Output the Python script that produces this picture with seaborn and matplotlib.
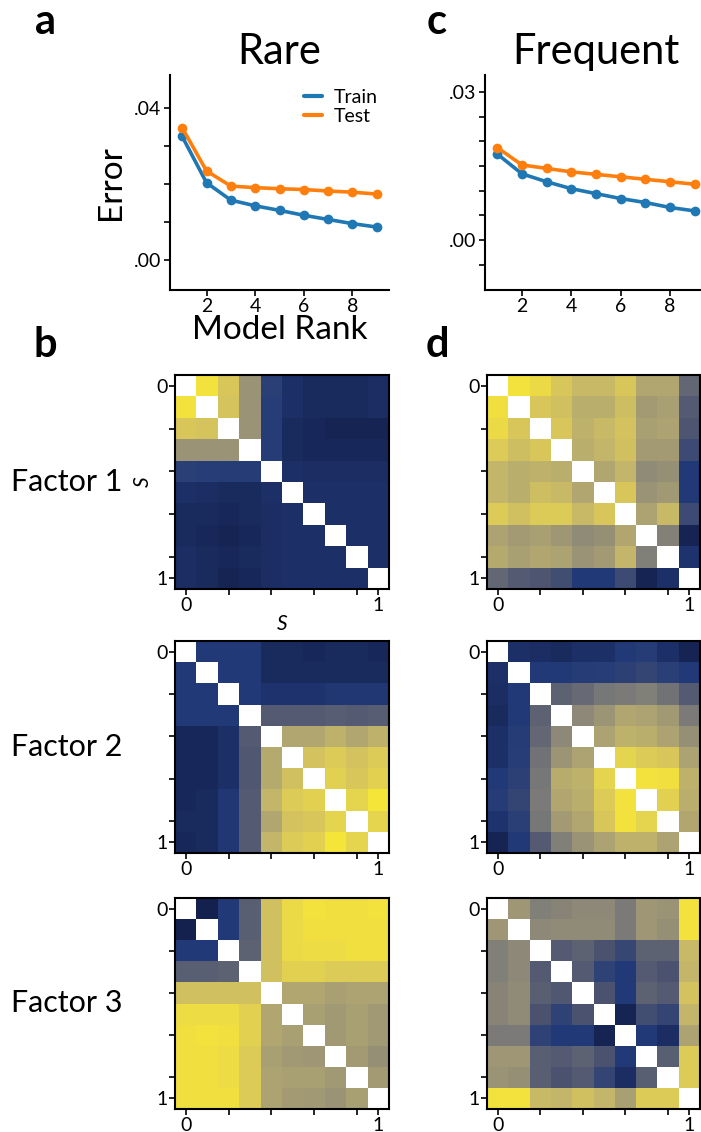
import numpy as np
import pandas as pd
import matplotlib
matplotlib.use("Agg")
import matplotlib.pyplot as plt
from matplotlib.colors import LinearSegmentedColormap
import seaborn as sns

# ---------------- data ----------------
ranks = [1, 2, 3, 4, 5, 6, 7, 8, 9]
rare_train = [0.0325, 0.0203, 0.0157, 0.0142, 0.0130, 0.0117, 0.0106, 0.0095, 0.0086]
rare_test = [0.0348, 0.0234, 0.0194, 0.0190, 0.0187, 0.0185, 0.0181, 0.0178, 0.0173]
freq_train = [0.0174, 0.0134, 0.0118, 0.0104, 0.0094, 0.0084, 0.0076, 0.0066, 0.0059]
freq_test = [0.0187, 0.0152, 0.0145, 0.0138, 0.0133, 0.0128, 0.0123, 0.0118, 0.0113]
set_names = ["Train", "Test"]

rare_f1 = [
    [1.00, 0.98, 0.88, 0.62, 0.13, 0.07, 0.05, 0.05, 0.05, 0.06],
    [0.98, 1.00, 0.87, 0.62, 0.12, 0.07, 0.05, 0.05, 0.05, 0.06],
    [0.88, 0.87, 1.00, 0.62, 0.11, 0.05, 0.04, 0.03, 0.03, 0.03],
    [0.62, 0.62, 0.62, 1.00, 0.11, 0.05, 0.04, 0.04, 0.04, 0.04],
    [0.13, 0.12, 0.11, 0.11, 1.00, 0.07, 0.06, 0.06, 0.06, 0.06],
    [0.07, 0.06, 0.05, 0.05, 0.07, 1.00, 0.07, 0.07, 0.07, 0.07],
    [0.05, 0.05, 0.04, 0.05, 0.06, 0.07, 1.00, 0.07, 0.07, 0.07],
    [0.05, 0.04, 0.03, 0.04, 0.06, 0.07, 0.07, 1.00, 0.07, 0.07],
    [0.06, 0.05, 0.04, 0.05, 0.06, 0.07, 0.07, 0.07, 1.00, 0.07],
    [0.06, 0.05, 0.03, 0.04, 0.06, 0.07, 0.07, 0.07, 0.07, 1.00],
]
rare_f2 = [
    [1.00, 0.10, 0.10, 0.10, 0.05, 0.05, 0.04, 0.05, 0.05, 0.04],
    [0.10, 1.00, 0.10, 0.10, 0.05, 0.05, 0.05, 0.05, 0.05, 0.05],
    [0.10, 0.10, 1.00, 0.10, 0.08, 0.08, 0.08, 0.09, 0.09, 0.09],
    [0.10, 0.10, 0.10, 1.00, 0.30, 0.30, 0.30, 0.32, 0.30, 0.32],
    [0.04, 0.04, 0.07, 0.30, 1.00, 0.72, 0.72, 0.78, 0.72, 0.78],
    [0.04, 0.04, 0.07, 0.28, 0.74, 1.00, 0.86, 0.90, 0.86, 0.90],
    [0.04, 0.04, 0.07, 0.28, 0.74, 0.85, 1.00, 0.92, 0.88, 0.92],
    [0.04, 0.05, 0.09, 0.30, 0.80, 0.90, 0.92, 1.00, 0.93, 0.99],
    [0.05, 0.05, 0.09, 0.30, 0.72, 0.86, 0.88, 0.93, 1.00, 0.93],
    [0.04, 0.05, 0.09, 0.30, 0.80, 0.90, 0.92, 0.99, 0.93, 1.00],
]
rare_f3 = [
    [1.00, 0.02, 0.10, 0.33, 0.85, 0.95, 0.98, 0.97, 0.97, 0.98],
    [0.02, 1.00, 0.10, 0.33, 0.85, 0.95, 0.97, 0.97, 0.97, 0.97],
    [0.10, 0.10, 1.00, 0.35, 0.85, 0.95, 0.96, 0.96, 0.97, 0.97],
    [0.33, 0.33, 0.35, 1.00, 0.85, 0.92, 0.92, 0.90, 0.90, 0.90],
    [0.85, 0.85, 0.85, 0.85, 1.00, 0.72, 0.72, 0.68, 0.70, 0.70],
    [0.96, 0.96, 0.96, 0.92, 0.72, 1.00, 0.68, 0.65, 0.68, 0.65],
    [0.97, 0.98, 0.97, 0.92, 0.72, 0.68, 1.00, 0.65, 0.68, 0.65],
    [0.97, 0.97, 0.96, 0.90, 0.68, 0.65, 0.64, 1.00, 0.66, 0.60],
    [0.97, 0.97, 0.96, 0.90, 0.70, 0.68, 0.68, 0.65, 1.00, 0.66],
    [0.97, 0.97, 0.97, 0.90, 0.70, 0.66, 0.65, 0.62, 0.68, 1.00],
]
freq_f1 = [
    [1.00, 0.98, 0.95, 0.88, 0.82, 0.82, 0.88, 0.72, 0.72, 0.38],
    [0.97, 1.00, 0.88, 0.85, 0.76, 0.76, 0.84, 0.66, 0.68, 0.30],
    [0.95, 0.88, 1.00, 0.88, 0.78, 0.82, 0.86, 0.68, 0.70, 0.27],
    [0.90, 0.84, 0.88, 1.00, 0.76, 0.80, 0.85, 0.66, 0.66, 0.20],
    [0.80, 0.76, 0.78, 0.76, 1.00, 0.72, 0.80, 0.58, 0.60, 0.10],
    [0.80, 0.76, 0.84, 0.82, 0.72, 1.00, 0.88, 0.62, 0.65, 0.10],
    [0.90, 0.85, 0.90, 0.90, 0.82, 0.88, 1.00, 0.70, 0.82, 0.20],
    [0.70, 0.66, 0.68, 0.64, 0.58, 0.60, 0.72, 1.00, 0.53, 0.03],
    [0.74, 0.68, 0.72, 0.70, 0.62, 0.66, 0.80, 0.52, 1.00, 0.08],
    [0.38, 0.30, 0.27, 0.22, 0.10, 0.10, 0.20, 0.03, 0.07, 1.00],
]
freq_f2 = [
    [1.00, 0.07, 0.06, 0.05, 0.07, 0.07, 0.10, 0.11, 0.07, 0.03],
    [0.07, 1.00, 0.10, 0.10, 0.11, 0.12, 0.14, 0.17, 0.13, 0.10],
    [0.06, 0.10, 1.00, 0.35, 0.40, 0.48, 0.50, 0.52, 0.45, 0.30],
    [0.05, 0.10, 0.35, 1.00, 0.57, 0.63, 0.72, 0.70, 0.65, 0.50],
    [0.07, 0.11, 0.38, 0.57, 1.00, 0.70, 0.78, 0.76, 0.70, 0.60],
    [0.07, 0.12, 0.45, 0.63, 0.70, 1.00, 0.93, 0.90, 0.88, 0.70],
    [0.10, 0.14, 0.48, 0.75, 0.78, 0.93, 1.00, 0.98, 0.97, 0.78],
    [0.11, 0.17, 0.50, 0.72, 0.76, 0.90, 0.98, 1.00, 0.92, 0.76],
    [0.08, 0.13, 0.48, 0.66, 0.72, 0.88, 0.98, 0.93, 1.00, 0.72],
    [0.03, 0.10, 0.30, 0.52, 0.62, 0.70, 0.78, 0.78, 0.70, 1.00],
]
freq_f3 = [
    [1.00, 0.64, 0.52, 0.55, 0.57, 0.57, 0.50, 0.64, 0.62, 0.98],
    [0.64, 1.00, 0.57, 0.58, 0.58, 0.58, 0.50, 0.64, 0.60, 0.98],
    [0.52, 0.57, 1.00, 0.30, 0.35, 0.25, 0.18, 0.35, 0.35, 0.82],
    [0.52, 0.57, 0.30, 1.00, 0.30, 0.15, 0.10, 0.30, 0.25, 0.80],
    [0.55, 0.58, 0.33, 0.28, 1.00, 0.25, 0.10, 0.35, 0.30, 0.86],
    [0.55, 0.58, 0.25, 0.15, 0.25, 1.00, 0.03, 0.22, 0.17, 0.80],
    [0.50, 0.50, 0.15, 0.10, 0.10, 0.03, 1.00, 0.10, 0.06, 0.70],
    [0.64, 0.64, 0.33, 0.30, 0.35, 0.25, 0.10, 1.00, 0.33, 0.90],
    [0.62, 0.60, 0.33, 0.25, 0.30, 0.17, 0.06, 0.33, 1.00, 0.90],
    [0.98, 0.98, 0.82, 0.80, 0.85, 0.80, 0.68, 0.90, 0.90, 1.00],
]
heat_ticklabels = ["0", "", "", "", "", "1"]
factor_names = ["Factor 1", "Factor 2", "Factor 3"]

# ---------------- style ----------------
sns.set_theme(style="ticks")
FONT = ["Lato", "DejaVu Sans"]
plt.rcParams["font.family"] = FONT
plt.rcParams["axes.edgecolor"] = "black"
plt.rcParams["xtick.color"] = "black"
plt.rcParams["ytick.color"] = "black"
plt.rcParams["text.color"] = "black"
plt.rcParams["axes.labelcolor"] = "black"

heat_cmap = LinearSegmentedColormap.from_list("navy_yellow", [
    (0.00, "#111b45"),
    (0.10, "#223a78"),
    (0.25, "#4a5270"),
    (0.50, "#7a7a78"),
    (0.60, "#958f76"),
    (0.70, "#aca272"),
    (0.80, "#c3b569"),
    (0.90, "#dcca58"),
    (1.00, "#f8e736"),
])

W, H = 701, 1132
fig = plt.figure(figsize=(W / 100, H / 100), dpi=100)


def px_axes(left, top, right, bottom):
    return fig.add_axes([left / W, 1 - bottom / H, (right - left) / W, (bottom - top) / H])


palette = {"Train": "#1f77b4", "Test": "#ff7f0e"}


def line_panel(ax, train, test, ylim, yticks, ylabels, show_legend):
    df = pd.DataFrame({
        "rank": ranks + ranks,
        "error": train + test,
        "set": [set_names[0]] * len(ranks) + [set_names[1]] * len(ranks),
    })
    sns.lineplot(data=df, x="rank", y="error", hue="set", palette=palette,
                 marker="o", markersize=7, markeredgewidth=0, linewidth=2.6,
                 ax=ax, legend=show_legend)
    ax.set_xlim(0.5, 9.5)
    ax.set_ylim(*ylim)
    ax.set_xticks([2, 4, 6, 8])
    ax.set_yticks(yticks)
    ax.set_yticklabels(ylabels)
    sns.despine(ax=ax)
    for s in ["left", "bottom"]:
        ax.spines[s].set_linewidth(1.5)
    ax.tick_params(axis="both", labelsize=14, length=4, width=1.2, pad=2)
    ax.set_xlabel("")
    ax.set_ylabel("")
    if show_legend:
        leg = ax.legend(title=None, frameon=False, loc="upper right",
                        fontsize=14, handlelength=0.9, handletextpad=0.6,
                        labelspacing=0.1, borderaxespad=0.2,
                        bbox_to_anchor=(1.0, 0.99))
        for h in leg.get_lines():
            h.set_linewidth(3)
            h.set_marker("")


# Panel a: Rare
ax_a = px_axes(170, 75, 389, 290)
line_panel(ax_a, rare_train, rare_test, (-0.008, 0.0487),
           [0.0, 0.01, 0.02, 0.03, 0.04], [".00", "", "", "", ".04"], True)
ax_a.set_title("Rare", fontsize=30, pad=8)
ax_a.set_xlabel("Model Rank", fontsize=24, labelpad=0)
ax_a.set_ylabel("Error", fontsize=24, labelpad=6)

# Panel c: Frequent
ax_c = px_axes(485, 75, 707, 290)
line_panel(ax_c, freq_train, freq_test, (-0.0101, 0.0334),
           [-0.005, 0.0, 0.005, 0.01, 0.015, 0.02, 0.025, 0.03],
           ["", ".00", "", "", "", "", "", ".03"], False)
ax_c.set_title("Frequent", fontsize=30, pad=8)


def heat_panel(ax, M):
    M = np.array(M, dtype=float)
    mask = np.eye(M.shape[0], dtype=bool)
    sns.heatmap(M, mask=mask, cmap=heat_cmap, vmin=0, vmax=1, cbar=False,
                ax=ax, xticklabels=False, yticklabels=False)
    pos = [0.5, 2.5, 4.5, 6.5, 8.5, 9.5]
    ax.set_xticks(pos)
    ax.set_xticklabels(heat_ticklabels, rotation=0)
    ax.set_yticks(pos)
    ax.set_yticklabels(heat_ticklabels, rotation=0)
    for s in ax.spines.values():
        s.set_visible(True)
        s.set_color("black")
        s.set_linewidth(1.5)
    ax.tick_params(axis="both", labelsize=14, length=4, width=1.2, pad=1.5,
                   bottom=True, left=True)


rows_px = [(375, 589), (641, 853), (898, 1109)]
rare_mats = [rare_f1, rare_f2, rare_f3]
freq_mats = [freq_f1, freq_f2, freq_f3]
for i, (top, bot) in enumerate(rows_px):
    axr = px_axes(175, top, 389, bot)
    heat_panel(axr, rare_mats[i])
    axf = px_axes(487, top, 700, bot)
    heat_panel(axf, freq_mats[i])
    fig.text(67 / W, 1 - ((top + bot) / 2) / H, factor_names[i], fontsize=22,
             ha="center", va="center")
    if i == 0:
        axr.set_xlabel("S", fontsize=15, style="italic", labelpad=0)
        axr.set_ylabel("S", fontsize=15, style="italic", labelpad=2)

# Panel letters
for letter, (x, y) in {"a": (45, 22), "c": (437, 22), "b": (45, 345), "d": (437, 345)}.items():
    fig.text(x / W, 1 - y / H, letter, fontsize=30, fontweight="bold",
             ha="center", va="center")

fig.savefig("out.png", dpi=100)
